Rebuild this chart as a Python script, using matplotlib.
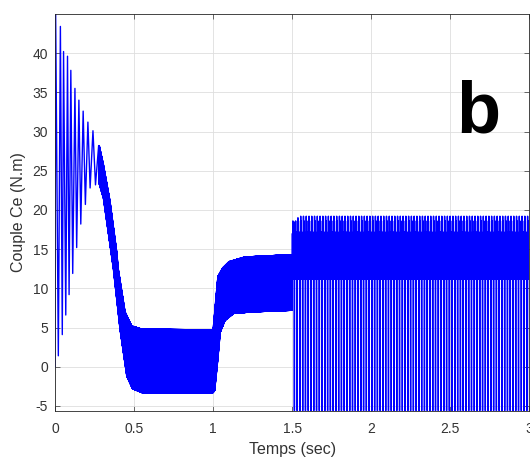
import numpy as np
import matplotlib

matplotlib.use("Agg")
import matplotlib.pyplot as plt

plt.rcParams["font.family"] = ["Liberation Sans", "DejaVu Sans"]
plt.rcParams["axes.unicode_minus"] = False

# start-up torque oscillation: turning points (s, N.m)
START_T = [0.000, 0.004, 0.021, 0.034, 0.046, 0.054, 0.068, 0.079, 0.089,
           0.100, 0.112, 0.126, 0.137, 0.151, 0.163, 0.178, 0.192, 0.208,
           0.222, 0.240, 0.256, 0.276]
START_V = [0.0, 45.0, 1.4, 43.4, 4.1, 40.2, 6.6, 39.6, 9.2, 37.8, 11.9,
           35.5, 15.2, 34.0, 18.2, 32.6, 20.7, 31.2, 22.8, 30.1, 23.2, 28.2]

# dense ripple band (0.28 - 1.5 s): upper / lower envelope knots
UP_T = [0.280, 0.306, 0.348, 0.390, 0.400, 0.443, 0.485, 0.550, 1.000,
        1.010, 1.030, 1.060, 1.100, 1.200, 1.500]
UP_V = [28.2, 25.8, 21.1, 14.7, 12.5, 7.0, 5.2, 4.8, 4.7, 7.0, 11.5, 12.6,
        13.4, 14.0, 14.3]
LO_T = [0.280, 0.306, 0.369, 0.411, 0.454, 0.490, 0.550, 1.000, 1.010,
        1.030, 1.045, 1.075, 1.130, 1.250, 1.500]
LO_V = [23.3, 21.5, 12.5, 4.8, -1.2, -2.8, -3.3, -3.3, -3.0, 1.0, 4.4, 5.9,
        6.8, 7.0, 7.2]
BAND_STEP = 0.0004

# after the 1.5 s load step: one spike per period
SPIKE_START = 1.5
SPIKE_END = 3.0
SPIKE_PERIOD = 0.0175
SPIKE_TOPS_FIRST = [17.0, 18.5, 19.0]
SPIKE_TOP = 19.2
SPIKE_MID = [18.6, 17.2]
SPIKE_BOTTOM = -5.6
CORE_LOW = 11.2
CORE_HIGH = 15.3

XTICKS = [0, 0.5, 1, 1.5, 2, 2.5, 3]
XTICKLABELS = ["0", "0.5", "1", "1.5", "2", "2.5", "3"]
YTICKS = [-5, 0, 5, 10, 15, 20, 25, 30, 35, 40]


def band_trace():
    t = np.arange(UP_T[0], UP_T[-1], BAND_STEP)
    up = np.interp(t, UP_T, UP_V)
    lo = np.interp(t, LO_T, LO_V)
    v = np.where(np.arange(len(t)) % 2 == 0, up, lo)
    return t, v


def spike_trace():
    frac = [0.0, 0.08, 0.17, 0.26, 0.35, 0.44, 0.53, 0.62, 0.71, 0.80, 0.88]
    ts, vs = [], []
    n = int(round((SPIKE_END - SPIKE_START) / SPIKE_PERIOD))
    for k in range(n):
        top = SPIKE_TOPS_FIRST[k] if k < len(SPIKE_TOPS_FIRST) else SPIKE_TOP
        shape = [13.0, top, CORE_LOW, SPIKE_MID[0], CORE_LOW, SPIKE_MID[1],
                 CORE_LOW, CORE_HIGH, CORE_LOW + 0.3, SPIKE_BOTTOM, 13.0]
        t0 = SPIKE_START + k * SPIKE_PERIOD
        ts += [t0 + f * SPIKE_PERIOD for f in frac]
        vs += shape
    return np.array(ts), np.array(vs)


bt, bv = band_trace()
st, sv = spike_trace()
t = np.concatenate([START_T, bt, st])
v = np.concatenate([START_V, bv, sv])

fig = plt.figure(figsize=(5.30, 4.63), dpi=100)
ax = fig.add_axes([0.1038, 0.113, 0.895, 0.857])

ax.plot(t, v, color="#0000ff", linewidth=1.0)

ax.set_xlim(0, 3)
ax.set_ylim(-5.6, 45)
ax.set_xticks(XTICKS)
ax.set_xticklabels(XTICKLABELS)
ax.set_yticks(YTICKS)
ax.grid(True, color="#dedede", linewidth=0.6)
ax.set_axisbelow(True)
ax.tick_params(direction="in", top=True, right=True, length=3.5,
               width=0.5, labelsize=10, colors="#333333")
ax.tick_params(axis="x", pad=8.5)
ax.tick_params(axis="y", pad=5)
for sp in ax.spines.values():
    sp.set_color("#262626")
    sp.set_linewidth(0.6)

ax.set_xlabel("Temps (sec)", fontsize=11.5, color="#333333", labelpad=4)
ax.set_ylabel("Couple Ce (N.m)", fontsize=11.5, color="#333333", labelpad=5)

ax.text(2.68, 29.9, "b", fontsize=52, fontweight="bold", ha="center",
        va="baseline", color="black")

fig.savefig("out.png", dpi=100)
